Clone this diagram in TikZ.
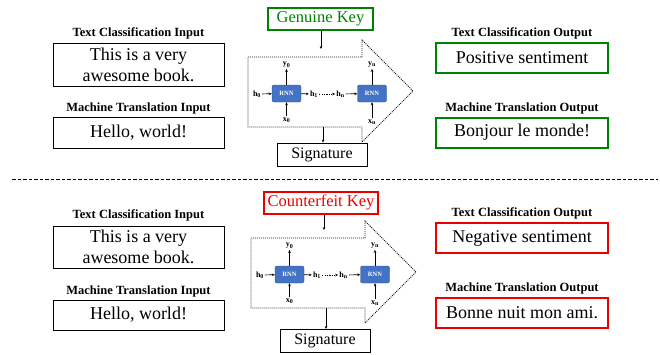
\documentclass[tikz,border=0pt]{standalone}
\usepackage{fontspec}
\setmainfont{Liberation Serif}[Ligatures=TeX]
\usetikzlibrary{arrows.meta}
\definecolor{kgreen}{RGB}{0,128,0}
\definecolor{kred}{RGB}{235,0,0}
\definecolor{rnnblue}{RGB}{68,114,196}
\definecolor{rnnedge}{RGB}{47,82,143}
\tikzset{
  lbl/.style={font=\rmfamily\bfseries\fontsize{12.5}{14}\selectfont, inner sep=0pt},
  txtbox/.style={draw, line width=0.9pt, minimum width=171pt, inner sep=0pt, align=center, font=\rmfamily\fontsize{18}{21}\selectfont},
  goodbox/.style={draw=kgreen, line width=2pt, minimum width=172pt, minimum height=30pt, inner sep=0pt, font=\rmfamily\fontsize{18}{21}\selectfont},
  badbox/.style={draw=kred, line width=2pt, minimum width=172pt, minimum height=30pt, inner sep=0pt, font=\rmfamily\fontsize{18}{21}\selectfont},
  keybox/.style={line width=2pt, minimum width=105pt, minimum height=22pt, inner xsep=4pt, inner ysep=0pt, font=\rmfamily\fontsize{16.5}{18}\selectfont},
  sigbox/.style={draw, line width=0.9pt, fill=white, minimum width=90pt, minimum height=23pt, inner sep=0pt, font=\rmfamily\fontsize{16}{18}\selectfont},
  rnn/.style={draw=rnnedge, fill=rnnblue, rounded corners=2pt, minimum width=29pt, minimum height=17pt, inner sep=0pt, text=white, font=\rmfamily\bfseries\fontsize{6.5}{7}\selectfont},
  sm/.style={inner sep=1pt, font=\rmfamily\bfseries\fontsize{8}{9}\selectfont},
  arr/.style={line width=0.7pt, -{Stealth[length=3pt,width=2.6pt]}},
  bigarr/.style={line width=0.9pt, draw=black!90, dash pattern=on 1pt off 1pt},
}
\newcommand\rnnpanel{%
  \draw[bigarr] (248,57) -- (362,57) -- (362,40) -- (413,91) -- (362,142) -- (362,127) -- (248,127) -- cycle;
  \coordinate (in) at (321,49);
  \coordinate (out) at (323,127);
  \node[rnn] (r1) at (286.5,93.5) {RNN};
  \node[rnn] (r2) at (372,93.5) {RNN};
  \node[sm] (h0) at (257,94) {h\textsubscript{0}};
  \node[sm] (h1) at (314,94) {h\textsubscript{1}};
  \node[sm] (hn) at (340.5,94) {h\textsubscript{n}};
  \node[sm] (y0) at (286.5,65) {y\textsubscript{0}};
  \node[sm] (x0) at (286.5,120) {x\textsubscript{0}};
  \node[sm] (yn) at (372,65) {y\textsubscript{n}};
  \node[sm] (xn) at (372,122) {x\textsubscript{n}};
  \draw[arr] (h0) -- (r1);
  \draw[arr] (r1) -- (h1);
  \draw[arr, dash pattern=on 1.2pt off 1.2pt] (h1) -- (hn);
  \draw[arr] (hn) -- (r2);
  \draw[arr] (r1) -- (y0);
  \draw[arr] (x0) -- (r1);
  \draw[arr] (r2) -- (yn);
  \draw[arr] (xn) -- (r2);
}
\begin{document}
\begin{tikzpicture}[x=1pt,y=-1pt]
\useasboundingbox (0,0) rectangle (660,354);

% ---------- top half ----------
\node[lbl] (til) at (138.5,33) {Text Classification Input};
\node[txtbox, minimum height=43pt] (ti) at (138.5,64.5) {This is a very\\awesome book.};
\node[lbl] (mil) at (138.5,108) {Machine Translation Input};
\node[txtbox, minimum height=31pt] (mi) at (138.5,132.5) {Hello, world!};

\node[lbl] (tol) at (522,33) {Text Classification Output};
\node[goodbox] (to) at (522,58) {Positive sentiment};
\node[lbl] (mol) at (522,108) {Machine Translation Output};
\node[goodbox] (mo) at (522,132.5) {Bonjour le monde!};

\begin{scope}[name prefix=t-]
  \rnnpanel
\end{scope}
\node[keybox, draw=kgreen, text=kgreen] (gk) at (320.5,18.5) {Genuine Key};
\node[sigbox] (sig1) at (322,154.5) {Signature};
\draw[arr] (gk.south -| t-in) -- (t-in);
\draw[arr] (t-out) -- (t-out |- sig1.north);

% ---------- separator ----------
\draw[line width=0.8pt, dash pattern=on 3.5pt off 2pt] (12,179) -- (658,179);

% ---------- bottom half ----------
\node[lbl] (til2) at (138.5,215) {Text Classification Input};
\node[txtbox, minimum height=42pt] (ti2) at (138.5,247) {This is a very\\awesome book.};
\node[lbl] (mil2) at (138.5,291) {Machine Translation Input};
\node[txtbox, minimum height=30pt] (mi2) at (138.5,315) {Hello, world!};

\node[lbl] (tol2) at (522,213) {Text Classification Output};
\node[badbox] (to2) at (522,238) {Negative sentiment};
\node[lbl] (mol2) at (522,288) {Machine Translation Output};
\node[badbox] (mo2) at (522,312.5) {Bonne nuit mon ami.};

\begin{scope}[shift={(3,181)}, name prefix=b-]
  \rnnpanel
\end{scope}
\node[keybox, draw=kred, text=kred] (ck) at (321,202.5) {Counterfeit Key};
\node[sigbox] (sig2) at (325,341) {Signature};
\draw[arr] (ck.south -| b-in) -- (b-in);
\draw[arr] (b-out) -- (b-out |- sig2.north);
\end{tikzpicture}
\end{document}
